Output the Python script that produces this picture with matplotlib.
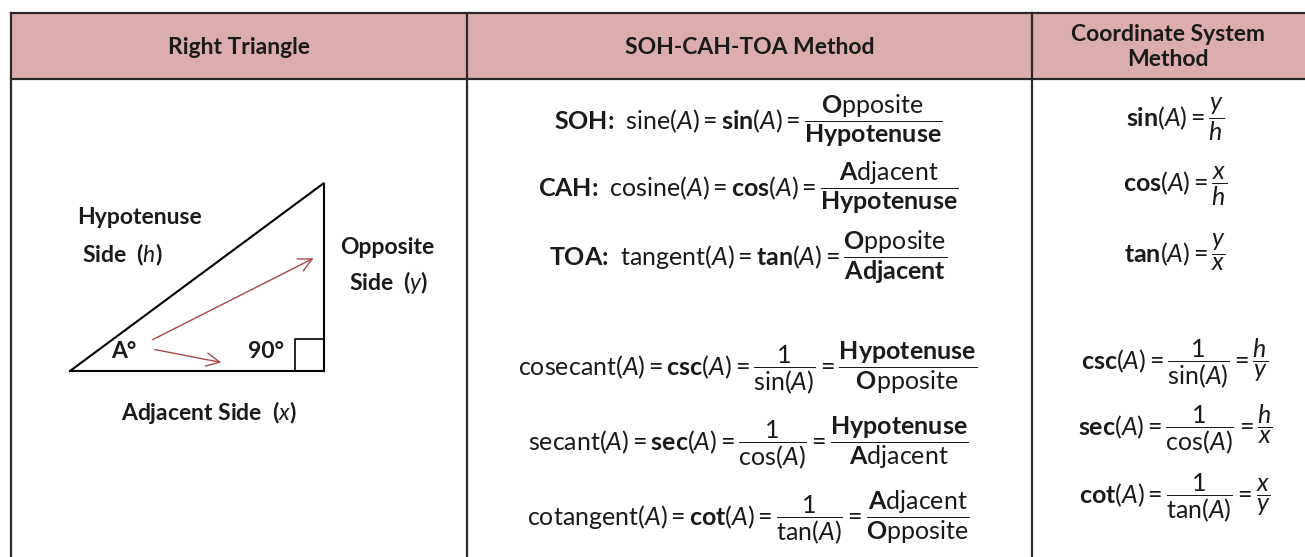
import matplotlib.pyplot as plt
from matplotlib.patches import Rectangle, FancyArrowPatch

plt.rcParams['font.family'] = ['Lato', 'DejaVu Sans']
plt.rcParams['mathtext.fontset'] = 'custom'
plt.rcParams['mathtext.rm'] = 'Lato'
plt.rcParams['mathtext.it'] = 'Lato:italic'
plt.rcParams['mathtext.bf'] = 'Lato:bold'

# table content
headers = ["Right Triangle", "SOH-CAH-TOA Method", "Coordinate System\nMethod"]

soh_rows = [
    r"SOH:  $\mathrm{sine}(A)=\mathbf{sin}(A)="
    r"\dfrac{\mathbf{O}\mathrm{pposite}}{\mathbf{Hypotenuse}}$",
    r"CAH:  $\mathrm{cosine}(A)=\mathbf{cos}(A)="
    r"\dfrac{\mathbf{A}\mathrm{djacent}}{\mathbf{Hypotenuse}}$",
    r"TOA:  $\mathrm{tangent}(A)=\mathbf{tan}(A)="
    r"\dfrac{\mathbf{O}\mathrm{pposite}}{\mathbf{Adjacent}}$",
    r"$\mathrm{cosecant}(A)=\mathbf{csc}(A)="
    r"\dfrac{1}{\mathrm{sin}(A)}=\dfrac{\mathbf{Hypotenuse}}{\mathbf{O}\mathrm{pposite}}$",
    r"$\mathrm{secant}(A)=\mathbf{sec}(A)="
    r"\dfrac{1}{\mathrm{cos}(A)}=\dfrac{\mathbf{Hypotenuse}}{\mathbf{A}\mathrm{djacent}}$",
    r"$\mathrm{cotangent}(A)=\mathbf{cot}(A)="
    r"\dfrac{1}{\mathrm{tan}(A)}=\dfrac{\mathbf{A}\mathrm{djacent}}{\mathbf{O}\mathrm{pposite}}$",
]

coord_rows = [
    r"$\mathbf{sin}(A)=\dfrac{y}{h}$",
    r"$\mathbf{cos}(A)=\dfrac{x}{h}$",
    r"$\mathbf{tan}(A)=\dfrac{y}{x}$",
    r"$\mathbf{csc}(A)=\dfrac{1}{\mathrm{sin}(A)}=\dfrac{h}{y}$",
    r"$\mathbf{sec}(A)=\dfrac{1}{\mathrm{cos}(A)}=\dfrac{h}{x}$",
    r"$\mathbf{cot}(A)=\dfrac{1}{\mathrm{tan}(A)}=\dfrac{x}{y}$",
]

tri_labels = ["Hypotenuse", r"Side  ($\mathit{h}$)", "Opposite", r"Side  ($\mathit{y}$)",
              "A°", "90°", r"Adjacent Side  ($\mathit{x}$)"]

# layout (pixels)
col_edges = [11, 467, 1032, 1305]
top, head_bot, bottom = 13, 79, 557
soh_y = [121, 188, 257, 368, 443, 518]
coord_y = [119, 186, 252, 364, 430, 498]

fig = plt.figure(figsize=(13.05, 5.57), dpi=100)
ax = fig.add_axes([0, 0, 1, 1])
ax.set_xlim(0, 1305)
ax.set_ylim(557, 0)
ax.axis('off')

line_c = '#2a2a2a'
ax.add_patch(Rectangle((col_edges[0], top), col_edges[-1] - col_edges[0], head_bot - top,
                       facecolor='#dcadad', edgecolor='none'))
ax.plot([col_edges[0], col_edges[-1]], [top, top], color=line_c, lw=1.6)
ax.plot([col_edges[0], col_edges[-1]], [head_bot, head_bot], color=line_c, lw=1.6)
for xe in col_edges[:3]:
    ax.plot([xe, xe], [top, bottom], color=line_c, lw=1.6)

# headers
centers = [239, 750, 1168]
for cx, txt in zip(centers, headers):
    ax.text(cx, 47, txt, ha='center', va='center', fontsize=16.5, fontweight='bold',
            color='#1a1a1a', linespacing=1.25)

# triangle
ax.plot([70, 324, 324, 70], [371, 371, 183, 371], color='black', lw=1.5,
        solid_joinstyle='miter')
ax.plot([295, 295, 324], [371, 339, 339], color='black', lw=1.2)
arr_c = '#a8494a'
ax.add_patch(FancyArrowPatch((150, 341), (316, 257), arrowstyle='->', mutation_scale=24,
                             color=arr_c, lw=1.0))
ax.add_patch(FancyArrowPatch((152, 349), (224, 363), arrowstyle='->', mutation_scale=24,
                             color=arr_c, lw=1.0))

tri_pos = [(77, 218, 'left'), (82, 255, 'left'), (340, 247, 'left'), (349, 283, 'left'),
           (111, 352, 'left'), (248, 352, 'left'), (209, 412, 'center')]
for (tx, ty, ha), lab in zip(tri_pos, tri_labels):
    ax.text(tx, ty, lab, ha=ha, va='center', fontsize=16.5, fontweight='bold', color='#1a1a1a')

# formulas
for fy, f in zip(soh_y, soh_rows):
    ax.text(748, fy, f, ha='center', va='center', fontsize=18, fontweight='bold',
            color='#1a1a1a')
for fy, f in zip(coord_y, coord_rows):
    ax.text(1175, fy, f, ha='center', va='center', fontsize=18, color='#1a1a1a')

fig.savefig('out.png', dpi=100)
